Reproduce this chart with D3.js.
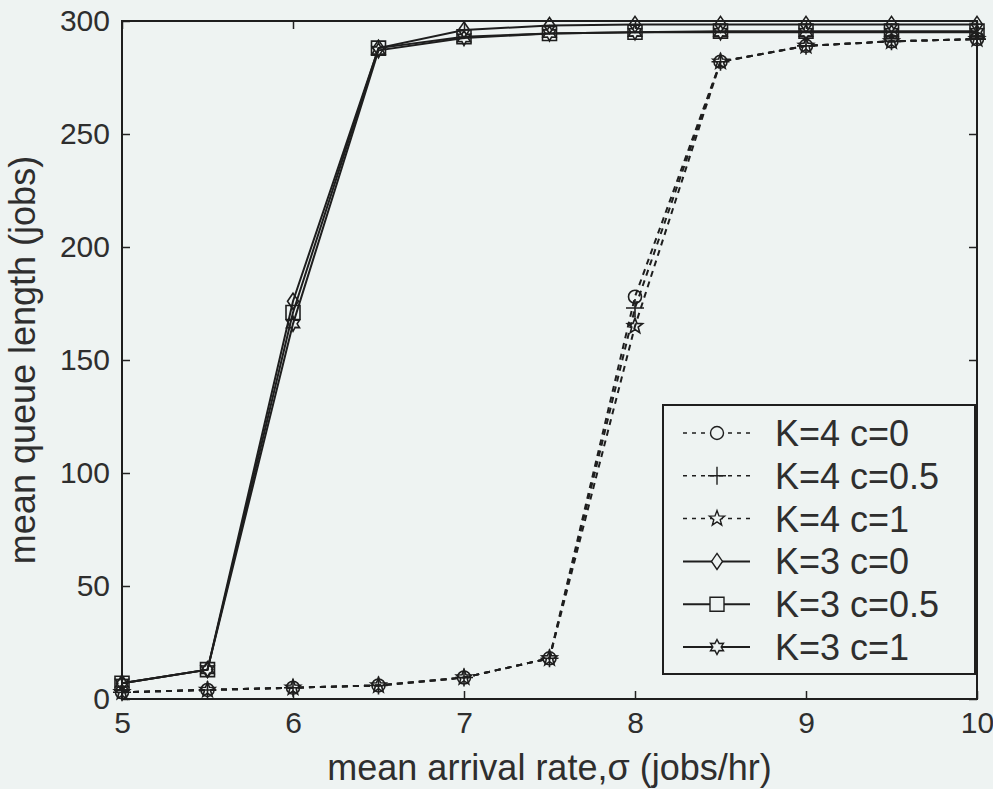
<!DOCTYPE html>
<html>
<head>
<meta charset="utf-8">
<script src="https://cdn.jsdelivr.net/npm/d3@7"></script>
<style>
body { margin: 0; background: #eef3f2; }
text { font-family: Arial, "Liberation Sans", sans-serif; fill: #2e2e2e; }
</style>
</head>
<body>
<script>

// arrival rates (x) and mean queue lengths per configuration
var rates = [5, 5.5, 6, 6.5, 7, 7.5, 8, 8.5, 9, 9.5, 10];
var k4c0  = [3, 4, 5, 6, 9.5, 18, 178, 282, 289, 291, 292];
var k4c05 = [3, 4, 5, 6, 9.5, 18, 173, 282, 289, 291, 292];
var k4c1  = [3, 4, 5, 6, 9.5, 18, 165, 282, 289, 291, 292];
var k3c0  = [7, 13, 176, 288, 296, 298, 298.5, 298.5, 298.5, 298.5, 298.5];
var k3c05 = [7, 13, 171, 288, 293, 294.5, 295, 295.5, 295.5, 295.5, 295.5];
var k3c1  = [7, 13, 166, 287, 292.5, 294.5, 295, 295, 295, 295, 295];
var seriesNames = ["K=4 c=0", "K=4 c=0.5", "K=4 c=1", "K=3 c=0", "K=3 c=0.5", "K=3 c=1"];
var xTicks = [5, 6, 7, 8, 9, 10];
var yTicks = [0, 50, 100, 150, 200, 250, 300];

var width = 993,
    height = 789,
    margin = {top: 21, right: 16, bottom: 90, left: 122};

var allSeries = [k4c0, k4c05, k4c1, k3c0, k3c05, k3c1];
var markerTypes = ["circle", "plus", "star", "diamond", "square", "hexagram"];

var x = d3.scaleLinear().domain([5, 10]).range([margin.left, width - margin.right]);
var y = d3.scaleLinear().domain([0, 300]).range([height - margin.bottom, margin.top]);

var svg = d3.select("body").append("svg")
    .attr("width", width)
    .attr("height", height);

svg.append("rect")
    .attr("width", width)
    .attr("height", height)
    .attr("fill", "#eef3f2");

// axes with inward ticks on all four sides (matlab box)
var tickLen = 8;
var fmt = d3.format("d");
svg.append("g")
    .attr("transform", "translate(0," + (height - margin.bottom) + ")")
    .call(d3.axisBottom(x).tickValues(xTicks).tickFormat(fmt).tickSize(-tickLen).tickPadding(13));
svg.append("g")
    .attr("transform", "translate(" + margin.left + ",0)")
    .call(d3.axisLeft(y).tickValues(yTicks).tickFormat(fmt).tickSize(-tickLen).tickPadding(12));
svg.append("g")
    .attr("transform", "translate(0," + margin.top + ")")
    .call(d3.axisTop(x).tickValues(xTicks).tickSize(-tickLen).tickFormat(""));
svg.append("g")
    .attr("transform", "translate(" + (width - margin.right) + ",0)")
    .call(d3.axisRight(y).tickValues(yTicks).tickSize(-tickLen).tickFormat(""));

svg.selectAll(".domain").remove();
svg.selectAll(".tick line").attr("stroke", "#222").attr("stroke-width", 1.5);
svg.selectAll(".tick text")
    .style("font-size", "30px")
    .style("font-family", "Arial, 'Liberation Sans', sans-serif")
    .attr("fill", "#2e2e2e");

svg.append("rect")
    .attr("x", margin.left)
    .attr("y", margin.top)
    .attr("width", width - margin.left - margin.right)
    .attr("height", height - margin.top - margin.bottom)
    .attr("fill", "none")
    .attr("stroke", "#1e1e1e")
    .attr("stroke-width", 2);

// axis titles
svg.append("text")
    .attr("x", (margin.left + width - margin.right) / 2)
    .attr("y", 780)
    .attr("text-anchor", "middle")
    .style("font-size", "36px")
    .text("mean arrival rate,\u03c3 (jobs/hr)");

svg.append("text")
    .attr("transform", "translate(35," + ((margin.top + height - margin.bottom) / 2) + ") rotate(-90)")
    .attr("text-anchor", "middle")
    .style("font-size", "36px")
    .text("mean queue length (jobs)");

// marker shapes
function starPath(n, r, inner) {
    var pts = [];
    for (var i = 0; i < n * 2; i++) {
        var a = Math.PI * i / n - Math.PI / 2;
        var rr = i % 2 === 0 ? r : r * inner;
        pts.push([rr * Math.cos(a), rr * Math.sin(a)]);
    }
    return "M" + pts.join("L") + "Z";
}

function markerPath(type) {
    if (type === "circle") return "M-6.5,0A6.5,6.5 0 1,0 6.5,0A6.5,6.5 0 1,0 -6.5,0Z";
    if (type === "plus") return "M-9,0L9,0M0,-9L0,9";
    if (type === "star") return starPath(5, 8, 0.42);
    if (type === "diamond") return "M0,-8L5.5,0L0,8L-5.5,0Z";
    if (type === "square") return "M-7,-7L7,-7L7,7L-7,7Z";
    return starPath(6, 7.5, 0.55);
}

function isDashed(i) { return i < 3; }

var line = d3.line()
    .x(function(d) { return x(d[0]); })
    .y(function(d) { return y(d[1]); });

allSeries.forEach(function(vals, i) {
    var pts = rates.map(function(r, j) { return [r, vals[j]]; });
    svg.append("path")
        .datum(pts)
        .attr("fill", "none")
        .attr("stroke", "#1e1e1e")
        .attr("stroke-width", 2)
        .attr("stroke-dasharray", isDashed(i) ? "6,5" : null)
        .attr("d", line);
    svg.append("g").selectAll("path")
        .data(pts)
        .enter().append("path")
        .attr("transform", function(d) { return "translate(" + x(d[0]) + "," + y(d[1]) + ")"; })
        .attr("d", markerPath(markerTypes[i]))
        .attr("fill", "none")
        .attr("stroke", "#1e1e1e")
        .attr("stroke-width", 1.6);
});

// legend
var legend = svg.append("g");
legend.append("rect")
    .attr("x", 663)
    .attr("y", 405)
    .attr("width", 312)
    .attr("height", 269)
    .attr("fill", "#eef3f2")
    .attr("stroke", "#1e1e1e")
    .attr("stroke-width", 2);

var rowY = d3.scaleLinear().domain([0, 5]).range([433, 647]);

seriesNames.forEach(function(name, i) {
    var yy = rowY(i);
    legend.append("line")
        .attr("x1", 683).attr("x2", 750)
        .attr("y1", yy).attr("y2", yy)
        .attr("stroke", "#1e1e1e")
        .attr("stroke-width", isDashed(i) ? 1.5 : 2)
        .attr("stroke-dasharray", isDashed(i) ? "4,5" : null);
    legend.append("path")
        .attr("transform", "translate(717," + yy + ")")
        .attr("d", markerPath(markerTypes[i]))
        .attr("fill", "#eef3f2")
        .attr("stroke", "#1e1e1e")
        .attr("stroke-width", 1.4);
    legend.append("text")
        .attr("x", 775)
        .attr("y", yy)
        .attr("dy", "0.36em")
        .style("font-size", "36px")
        .text(name);
});

</script>
</body>
</html>
